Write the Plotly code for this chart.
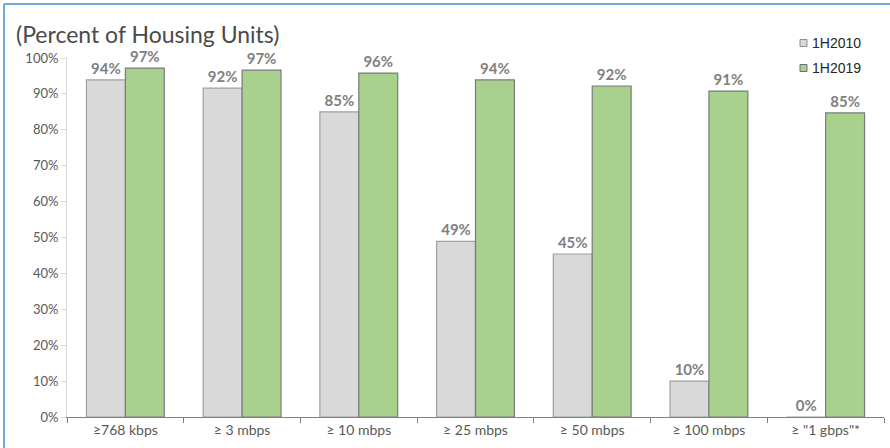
import plotly.graph_objects as go

categories = ["≥768 kbps", "≥ 3 mbps", "≥ 10 mbps", "≥ 25 mbps", "≥ 50 mbps", "≥ 100 mbps", "≥ \"1 gbps\"*"]
series_2010 = [93.9, 91.6, 85.0, 48.9, 45.4, 10.0, 0.0]
series_2019 = [97.2, 96.6, 95.8, 93.9, 92.2, 90.8, 84.7]
series_names = ["1H2010", "1H2019"]
y_ticks = [0, 10, 20, 30, 40, 50, 60, 70, 80, 90, 100]
y_tick_labels = [f"{v}%" for v in y_ticks]

W, H = 890, 448
L, R, T, B = 67, 6, 58, 31
pw, ph = W - L - R, H - T - B

def px_x(x):
    return (x - L) / pw

def px_y(y):
    return (H - B - y) / ph

fills = ["#d9d9d9", "#a9d18e"]
edges = ["#a0a0a0", "#7a7a7a"]
label_font = dict(family="Lato, Open Sans, sans-serif", size=15, color="#808080", weight="bold")

fig = go.Figure()
for name, vals, fc, ec in zip(series_names, [series_2010, series_2019], fills, edges):
    fig.add_trace(go.Bar(
        x=categories, y=vals, name=name, showlegend=False,
        marker=dict(color=fc, line=dict(color=ec, width=1.2)),
        text=[f"{round(v)}%" for v in vals], textposition="outside",
        textfont=label_font, cliponaxis=False,
    ))

shapes = [
    dict(type="line", xref="paper", yref="paper",
         x0=px_x(4), x1=px_x(W), y0=px_y(4), y1=px_y(4),
         line=dict(color="#6fa8dc", width=2)),
    dict(type="line", xref="paper", yref="paper",
         x0=px_x(4), x1=px_x(4), y0=px_y(4), y1=px_y(H),
         line=dict(color="#6fa8dc", width=2)),
]
annotations = [dict(text="(Percent of Housing Units)", xref="paper", yref="paper",
                    x=px_x(14), y=px_y(34), xanchor="left", yanchor="middle",
                    showarrow=False,
                    font=dict(family="Lato, Open Sans, sans-serif", size=23, color="#4a4a4a"))]
# legend (manual, small square swatches)
for i, (name, fc, ec) in enumerate(zip(series_names, fills, ["#909090", "#6f6f6f"])):
    cy = 43 + 25 * i
    shapes.append(dict(type="rect", xref="paper", yref="paper",
                       x0=px_x(800), x1=px_x(807), y0=px_y(cy - 3.5), y1=px_y(cy + 3.5),
                       fillcolor=fc, line=dict(color=ec, width=1)))
    annotations.append(dict(text=name, xref="paper", yref="paper",
                            x=px_x(810), y=px_y(cy), xanchor="left", yanchor="middle",
                            showarrow=False,
                            font=dict(family="Liberation Sans, Arial, sans-serif", size=14, color="#262626")))

fig.update_layout(
    width=W, height=H,
    margin=dict(l=L, r=R, t=T, b=B, pad=0),
    paper_bgcolor="white", plot_bgcolor="white",
    barmode="group", bargap=1/3, bargroupgap=0,
    showlegend=False,
    font=dict(family="Lato, Open Sans, sans-serif", color="#595959"),
    xaxis=dict(showgrid=False, showline=True, linecolor="#808080", linewidth=1.2,
               ticks="outside", ticklen=5, tickcolor="#808080", tickson="boundaries",
               tickfont=dict(size=14, color="#595959"), fixedrange=True),
    yaxis=dict(range=[0, 100], tickvals=y_ticks, ticktext=y_tick_labels,
               showgrid=False, showline=True, linecolor="#d9d9d9", linewidth=1,
               ticks="outside", ticklen=5, tickcolor="#d9d9d9", zeroline=False,
               tickfont=dict(size=13, color="#595959"), fixedrange=True),
    annotations=annotations,
    shapes=shapes,
)

fig.write_html("out.html")
